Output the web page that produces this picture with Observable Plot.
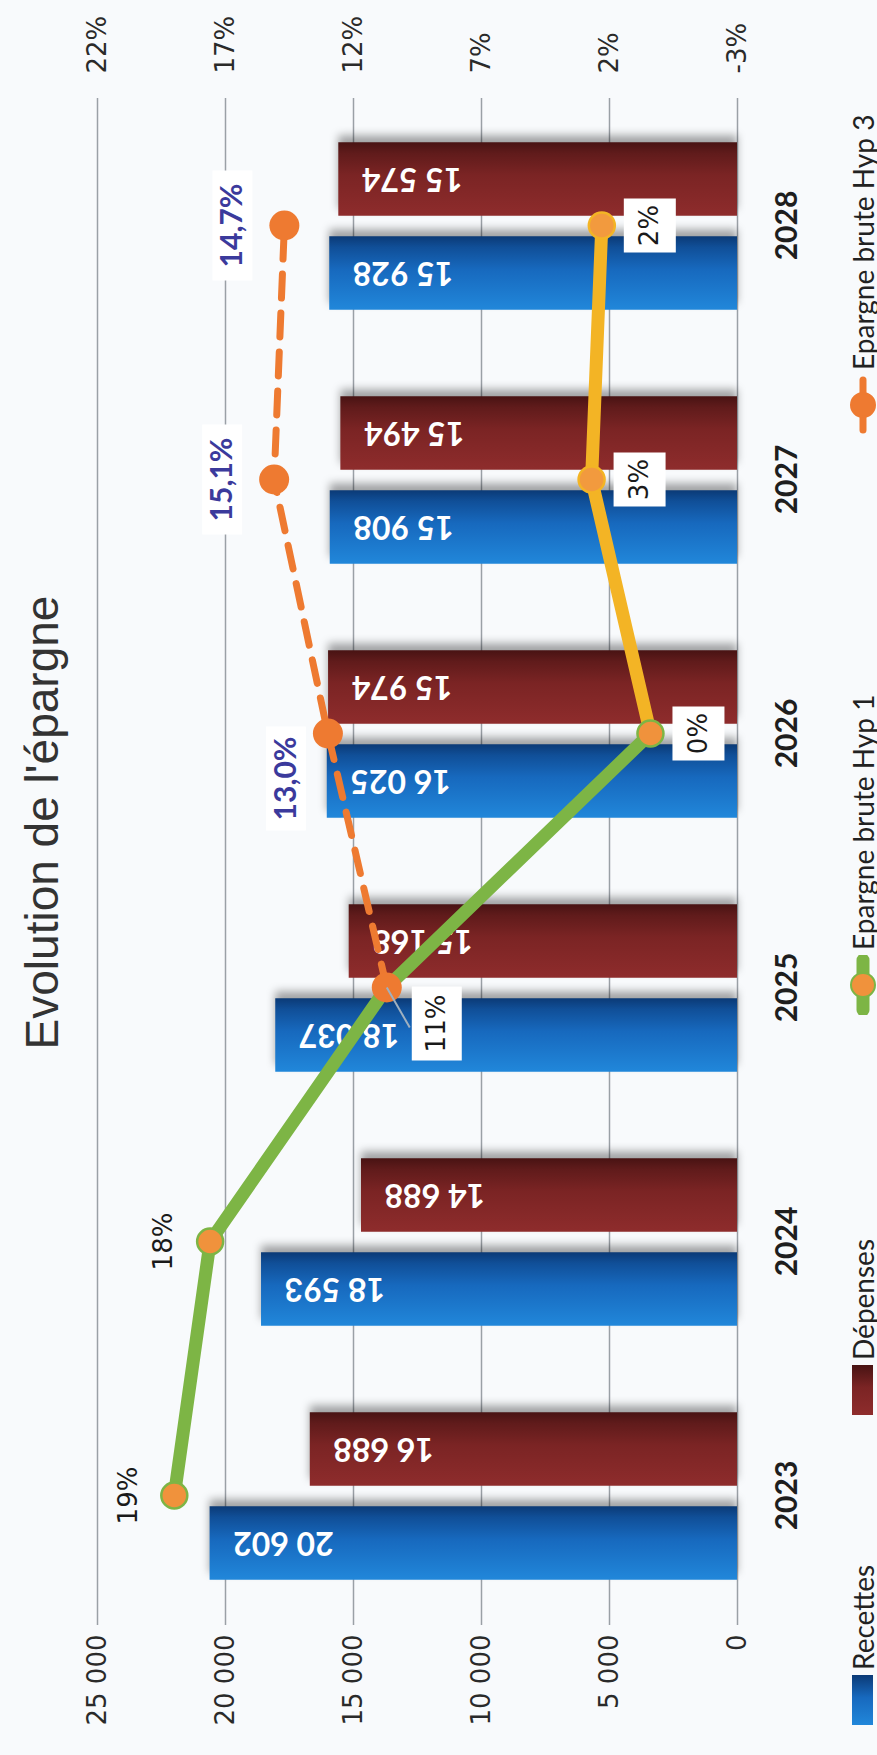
<!DOCTYPE html>
<html><head><meta charset="utf-8">
<script src="https://cdn.jsdelivr.net/npm/d3@7"></script>
<script src="https://cdn.jsdelivr.net/npm/@observablehq/plot@0.6"></script>
<style>
html,body{margin:0;padding:0;background:#f8fafc;}
body{width:877px;height:1755px;overflow:hidden;position:relative;}
#chart{position:absolute;left:0;top:0;width:1755px;height:877px;transform-origin:0 0;transform:translate(0px,1755px) rotate(-90deg);}
#title{height:84px;line-height:84px;text-align:center;padding-left:110px;font-family:"Liberation Sans",Arial,sans-serif;font-size:46px;color:#333;}
#legend{height:47px;position:relative;font-family:Lato,sans-serif;font-size:28px;color:#222;}
.item{position:absolute;top:9px;height:47px;display:flex;align-items:center;gap:5px;white-space:nowrap;}
.sw{width:50px;height:21px;}
svg.plot{display:block;}
</style>
</head><body>
<div id="chart"><div id="title">Evolution de l'épargne</div><div id="plot"></div><div id="legend"></div></div>
<script>
// ---- data ----
const years = ["2023","2024","2025","2026","2027","2028"];
const recettes = [20602,18593,18037,16025,15908,15928];
const depenses = [16688,14688,15168,15974,15494,15574];
const hyp1 = [19.0,17.6,10.7,0.4,2.7,2.3];
const hyp1Labels = ["19%","18%","11%","0%","3%","2%"];
const hyp3Years = ["2025","2026","2027","2028"];
const hyp3 = [10.7,13.0,15.1,14.7];
const hyp3Labels = ["","13,0%","15,1%","14,7%"];
const leftTicks = [0,5000,10000,15000,20000,25000];
const rightTickLabels = ["-3%","2%","7%","12%","17%","22%"];
const seriesNames = ["Recettes","Dépenses","Epargne brute Hyp 1","Epargne brute Hyp 3"];

// ---- derived tables ----
const pct = d3.scaleLinear([-3,22],[0,25000]); // secondary (right) axis mapping
const rightMap = new Map(leftTicks.map((t,i)=>[t,rightTickLabels[i]]));
const fmt = v => d3.format(",")(v).replace(/,/g," ");
const recData = years.map((y,i)=>({year:y,value:recettes[i]}));
const depData = years.map((y,i)=>({year:y,value:depenses[i]}));
const h1 = years.map((y,i)=>({year:y,v:hyp1[i],label:hyp1Labels[i]}));
const h1Green = h1.filter(d=>d.year<="2026");
const h1Gold = h1.filter(d=>d.year>="2026");
const h3 = hyp3Years.map((y,i)=>({year:y,v:hyp3[i],label:hyp3Labels[i]}));

// ---- layout / style ----
const W = 1755, H = 746;
const mL = 130, mR = 98, mT = 13, mB = 93;
const step = (W-mL-mR)/years.length;
const barW = 74, barGap = 20;
const outer = (step-2*barW-barGap)/2;
const off = (barW+barGap)/2;
const rectSym = (w,h)=>({draw(c){c.rect(-w/2,-h/2,w,h);}});
const leader = {draw(c){c.moveTo(0,0);c.lineTo(-40,23);}};
const legendLeft = [30,340,740,1320];

const yP = d=>pct(d.v);
const plainH1 = h1.filter(d=>d.year<="2024");
const boxH1 = h1.filter(d=>d.year>="2026");
const boxH1b = h1.filter(d=>d.year==="2025");
const h3Lab = h3.filter(d=>d.label);
const h3LabA = h3Lab.filter(d=>d.year==="2026");
const h3LabB = h3Lab.filter(d=>d.year!=="2026");

const svg = Plot.plot({
  width: W, height: H,
  marginLeft: mL, marginRight: mR, marginTop: mT, marginBottom: mB,
  style: {background:"transparent", overflow:"visible"},
  x: {domain: years, padding: 0},
  y: {domain: [0,25000]},
  marks: [
    Plot.gridY(leftTicks, {stroke:"#9aa0a6", strokeOpacity:1, strokeWidth:1.5}),
    Plot.axisY(leftTicks, {anchor:"left", tickSize:0, tickPadding:10, textAnchor:"end", tickFormat: fmt, fontSize:26, fontFamily:"DejaVu Sans", fill:"#2a2a2a", label:null}),
    Plot.axisY(leftTicks, {anchor:"right", tickSize:0, tickPadding:24, textAnchor:"start", tickFormat: d=>rightMap.get(d), fontSize:26, fontFamily:"DejaVu Sans", fill:"#2a2a2a", label:null}),
    Plot.axisX({tickSize:0, tickPadding:38, fontSize:30, fontFamily:"Lato", fontWeight:"bold", fill:"#1e1e1e", label:null}),
    Plot.barY(recData, {x:"year", y:"value", fill:"url(#gRec)", insetLeft:outer, insetRight:outer+barW+barGap}),
    Plot.barY(depData, {x:"year", y:"value", fill:"url(#gDep)", insetLeft:outer+barW+barGap, insetRight:outer}),
    Plot.text(recData, {x:"year", y:"value", text:d=>fmt(d.value), dx:-off, dy:23, rotate:-90, textAnchor:"end", lineAnchor:"middle", fill:"white", fontWeight:"bold", fontSize:32, fontFamily:"Lato"}),
    Plot.text(depData, {x:"year", y:"value", text:d=>fmt(d.value), dx:off, dy:23, rotate:-90, textAnchor:"end", lineAnchor:"middle", fill:"white", fontWeight:"bold", fontSize:32, fontFamily:"Lato"}),
    // Hyp 3 dashed line
    Plot.line(h3, {x:"year", y:yP, stroke:"#ee7a31", strokeWidth:7, strokeDasharray:"24,15", strokeLinecap:"round"}),
    // Hyp 1 line (green then gold)
    Plot.line(h1Green, {x:"year", y:yP, stroke:"#7db545", strokeWidth:13, strokeLinejoin:"round", strokeLinecap:"round"}),
    Plot.line(h1Gold, {x:"year", y:yP, stroke:"#f3b425", strokeWidth:13, strokeLinejoin:"round", strokeLinecap:"round"}),
    Plot.dot(h1Green, {x:"year", y:yP, r:13, fill:"#f0923c", stroke:"#7db545", strokeWidth:2.5}),
    Plot.dot(h1Gold.filter(d=>d.year>"2026"), {x:"year", y:yP, r:13, fill:"#f29a3e", stroke:"#f3b425", strokeWidth:2.5}),
    Plot.dot(h3, {x:"year", y:yP, r:15, fill:"#ee7a31"}),
    // labels Hyp 1
    Plot.text(plainH1, {x:"year", y:yP, text:"label", dy:-46, fontSize:26, fontFamily:"DejaVu Sans", fill:"#1a1a1a"}),
    Plot.dot(boxH1b, {x:"year", y:yP, symbol:leader, r:1, fill:"none", stroke:"#9fb0c0", strokeWidth:2}),
    Plot.dot(boxH1b, {x:"year", y:yP, symbol:rectSym(74,50), r:1, fill:"white", dx:-36, dy:50}),
    Plot.text(boxH1b, {x:"year", y:yP, text:"label", dx:-36, dy:50, fontSize:26, fontFamily:"DejaVu Sans", fill:"#1a1a1a"}),
    Plot.dot(boxH1, {x:"year", y:yP, symbol:rectSym(54,52), r:1, fill:"white", dy:48}),
    Plot.text(boxH1, {x:"year", y:yP, text:"label", dy:48, fontSize:26, fontFamily:"DejaVu Sans", fill:"#1a1a1a"}),
    // labels Hyp 3
    Plot.dot(h3LabA, {x:"year", y:yP, symbol:rectSym(104,40), r:1, fill:"white", dx:-45, dy:-42}),
    Plot.text(h3LabA, {x:"year", y:yP, text:"label", dx:-45, dy:-42, fontSize:30, fontWeight:"bold", fontFamily:"Lato", fill:"#3b3a9c"}),
    Plot.dot(h3LabB, {x:"year", y:yP, symbol:rectSym(110,40), r:1, fill:"white", dy:-52}),
    Plot.text(h3LabB, {x:"year", y:yP, text:"label", dy:-52, fontSize:30, fontWeight:"bold", fontFamily:"Lato", fill:"#3b3a9c"})
  ]
});

// gradients for bars
const defs = d3.select(svg).insert("defs", ":first-child");
function grad(id, stops){
  const g = defs.append("linearGradient").attr("id", id).attr("x1","0").attr("x2","1").attr("y1","0").attr("y2","0");
  stops.forEach(([o,c])=>g.append("stop").attr("offset",o).attr("stop-color",c));
}
grad("gRec", [[0,"#2187da"],[0.55,"#1769be"],[0.85,"#104f98"],[1,"#0b3a76"]]);
grad("gDep", [[0,"#8e2c2c"],[0.55,"#7b2424"],[0.85,"#601b1b"],[1,"#481313"]]);
d3.select(svg).selectAll('g[aria-label="bar"]').style("filter","drop-shadow(7px 0px 4px rgba(0,0,0,0.35))");
document.getElementById("plot").appendChild(svg);

// legend
const legend = d3.select("#legend");
const legendKeys = [
  {kind:"bar", bg:"linear-gradient(to right,#2187da,#1769be 55%,#0b3a76)"},
  {kind:"bar", bg:"linear-gradient(to right,#8e2c2c,#7b2424 55%,#481313)"},
  {kind:"line", line:"#7db545", dot:"#f0923c", dotStroke:"#7db545", w:13},
  {kind:"line", line:"#ee7a31", dot:"#ee7a31", dotStroke:"#ee7a31", w:7}
];
seriesNames.forEach((name,i)=>{
  const it = legend.append("div").attr("class","item").style("left", legendLeft[i]+"px");
  const c = legendKeys[i];
  if (c.kind==="bar") {
    it.append("div").attr("class","sw").style("background", c.bg);
  } else {
    const s = it.append("svg").attr("width",60).attr("height",34);
    s.append("line").attr("x1",5).attr("x2",55).attr("y1",17).attr("y2",17).attr("stroke",c.line).attr("stroke-width",c.w).attr("stroke-linecap","round");
    s.append("circle").attr("cx",30).attr("cy",17).attr("r",12).attr("fill",c.dot).attr("stroke",c.dotStroke).attr("stroke-width",2);
  }
  it.append("span").text(name);
});
</script>
</body></html>
